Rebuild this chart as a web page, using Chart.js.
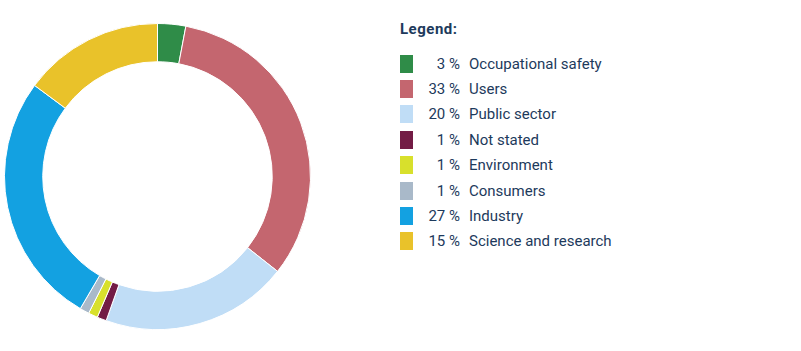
<!DOCTYPE html>
<html>
<head>
<meta charset="utf-8">
<script src="https://cdn.jsdelivr.net/npm/chart.js@4"></script>
<style>
  body { margin: 0; background: #fff; font-family: Roboto, "Noto Sans", sans-serif; color: #1d3a5c; }
  #wrap { position: absolute; left: 4px; top: 23px; width: 307px; height: 307px; }
  #legend { position: absolute; left: 400px; top: 20px; font-size: 15px; }
  #legend h4 { margin: 0 0 13px 0; font-size: 15px; font-weight: bold; letter-spacing: 0.5px; }
  .row { display: flex; align-items: center; height: 25.4px; }
  .sw { width: 13px; height: 18px; margin-right: 7px; }
  .pct { width: 40px; text-align: right; margin-right: 9px; }
</style>
</head>
<body>
<div id="wrap"><canvas id="myChart"></canvas></div>
<div id="legend"><h4>Legend:</h4></div>
<script>
'use strict';

let categories = ['Occupational safety', 'Users', 'Public sector', 'Not stated', 'Environment', 'Consumers', 'Industry', 'Science and research'];
let shares = [3, 33, 20, 1, 1, 1, 27, 15];
let colours = ['#2f8c48', '#c4666f', '#c0ddf6', '#731c45', '#d8e02c', '#a9b9c9', '#13a1e1', '#e9c22a'];

let legend = document.getElementById('legend');
for (let i = 0; i < categories.length; i++) {
    let row = document.createElement('div');
    row.className = 'row';
    row.innerHTML = '<span class="sw" style="background:' + colours[i] + '"></span>' +
        '<span class="pct">' + shares[i] + ' %</span><span>' + categories[i] + '</span>';
    legend.appendChild(row);
}

let ctx = document.getElementById('myChart').getContext('2d');
let chart = new Chart(ctx, {
    type: 'doughnut',
    data: {
        labels: categories,
        datasets: [{
            data: shares,
            backgroundColor: colours,
            borderColor: '#ffffff',
            borderWidth: 1
        }]
    },
    options: {
        responsive: true,
        maintainAspectRatio: false,
        animation: false,
        cutout: '75%',
        layout: { padding: 0 },
        plugins: {
            legend: { display: false },
            tooltip: { enabled: false }
        }
    }
});
</script>
</body>
</html>
